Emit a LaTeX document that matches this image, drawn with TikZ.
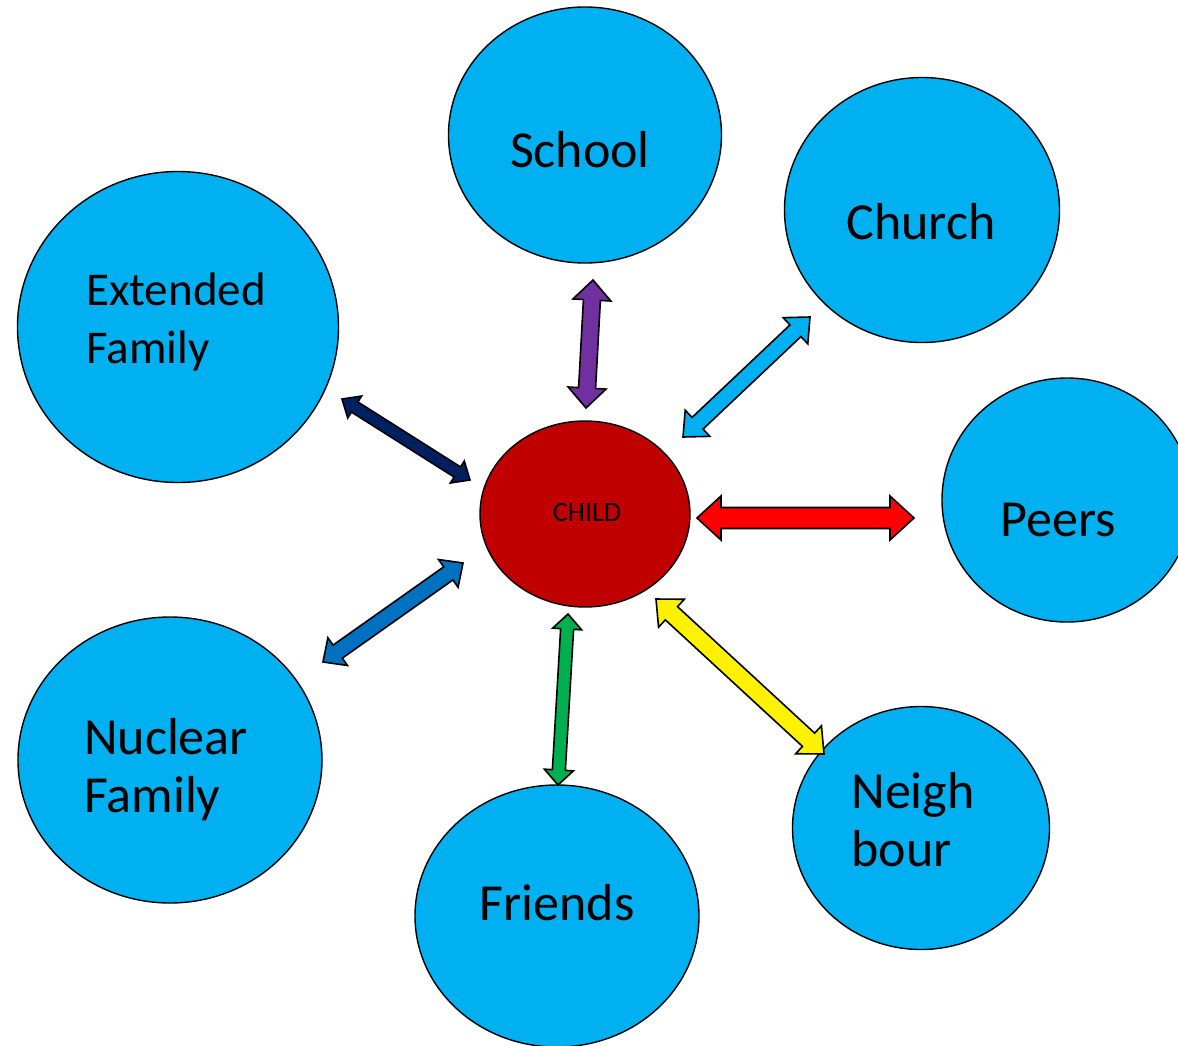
\documentclass[tikz,border=0pt]{standalone}
\usepackage{fontspec}
\setmainfont{Carlito}
\usetikzlibrary{calc,shapes.geometric}
\definecolor{bubble}{HTML}{00B0F0}
\definecolor{childred}{HTML}{C00000}
\definecolor{arrpurple}{HTML}{7030A0}
\definecolor{arrgreen}{HTML}{00B050}
\definecolor{arrblue}{HTML}{0070C0}
\definecolor{arrnavy}{HTML}{002060}
\tikzset{
  circ/.style={ellipse, draw=black, line width=1.4pt, fill=bubble, inner sep=0pt},
  lbl/.style={font=\fontsize{52}{58}\selectfont, align=left, inner sep=0pt},
  blockarrow/.style={draw=black, line width=1.6pt, line join=miter},
}
% block arrow with a head at both ends: from, to, colour, half shaft, half head, head length
\newcommand{\dblarrow}[6]{%
  \coordinate (p1) at ($(#1)!#6pt!(#2)$);
  \coordinate (p2) at ($(#2)!#6pt!(#1)$);
  \filldraw[blockarrow, fill=#3] (#1) -- ($(p1)!#5pt!90:(#2)$) -- ($(p1)!#4pt!90:(#2)$)
    -- ($(p2)!#4pt!-90:(#1)$) -- ($(p2)!#5pt!-90:(#1)$) -- (#2)
    -- ($(p2)!#5pt!90:(#1)$) -- ($(p2)!#4pt!90:(#1)$)
    -- ($(p1)!#4pt!-90:(#2)$) -- ($(p1)!#5pt!-90:(#2)$) -- cycle;
}
\begin{document}
\begin{tikzpicture}[x=1pt,y=-1pt]
  \useasboundingbox (0,0) rectangle (1178,1045);

  % the circles
  \node[circ, minimum width=273pt, minimum height=256pt] (school) at (585,135) {};
  \node[circ, minimum width=275pt, minimum height=265pt] (church) at (922,210) {};
  \node[circ, minimum width=321pt, minimum height=311pt] (extended) at (178,327) {};
  \node[circ, minimum width=250pt, minimum height=244pt] (peers) at (1067,500) {};
  \node[circ, fill=childred, minimum width=210pt, minimum height=186pt] (child) at (585,514) {};
  \node[circ, minimum width=304pt, minimum height=286pt] (nuclear) at (170,760) {};
  \node[circ, minimum width=284pt, minimum height=262pt] (friends) at (557,916) {};
  \node[circ, minimum width=257pt, minimum height=243pt] (neighbour) at (921,828) {};

  % the texts
  \node[lbl] (school-t) at (580,150) {School};
  \node[lbl] (church-t) at (921,222) {Church};
  \node[lbl, font=\fontsize{47}{58}\selectfont] (extended-t) at (176,322) {Extended\\Family};
  \node[lbl] (peers-t) at (1058,520) {Peers};
  \node[lbl, font=\fontsize{28}{32}\selectfont] (child-t) at (587,512) {CHILD};
  \node[lbl] (nuclear-t) at (166,770) {Nuclear\\Family};
  \node[lbl] (friends-t) at (557,903) {Friends};
  \node[lbl] (neighbour-t) at (913,820) {Neigh\\bour};

  % ends of the arrows
  \coordinate (s1) at (593,280);  \coordinate (s2) at (586,408);
  \coordinate (c1) at (810,317);  \coordinate (c2) at (683,437);
  \coordinate (p1a) at (697,518); \coordinate (p2a) at (914,518);
  \coordinate (n1) at (656,599);  \coordinate (n2) at (824,754);
  \coordinate (f1) at (568,614);  \coordinate (f2) at (558,785);
  \coordinate (u1) at (463,563);  \coordinate (u2) at (323,662);
  \coordinate (e1) at (342,399);  \coordinate (e2) at (470,480);

  \dblarrow{s1}{s2}{arrpurple}{8.5}{19}{20}
  \dblarrow{c1}{c2}{bubble}{8}{18}{20}
  \dblarrow{p1a}{p2a}{red}{10.5}{22}{24}
  \dblarrow{n1}{n2}{yellow}{9}{19}{21}
  \dblarrow{f1}{f2}{arrgreen}{6.5}{14.5}{15}
  \dblarrow{u1}{u2}{arrblue}{8}{17}{18}
  \dblarrow{e1}{e2}{arrnavy}{6}{13}{15}
\end{tikzpicture}
\end{document}
